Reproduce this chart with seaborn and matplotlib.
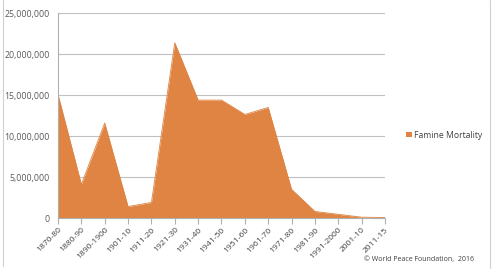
import matplotlib
matplotlib.use("Agg")
import matplotlib.pyplot as plt
import seaborn as sns
import pandas as pd
from matplotlib.patches import Patch
from matplotlib.lines import Line2D

categories = ["1870-80", "1880-90", "1890-1900", "1901-10", "1911-20", "1921-30",
              "1931-40", "1941-50", "1951-60", "1961-70", "1971-80", "1981-90",
              "1991-2000", "2001-10", "2011-15"]
mortality = [15100000, 4100000, 11600000, 1400000, 1900000, 21400000,
             14400000, 14400000, 12650000, 13500000, 3500000, 800000,
             450000, 100000, 60000]
series_name = "Famine Mortality"
y_ticks = [0, 5000000, 10000000, 15000000, 20000000, 25000000]

sns.set_theme(style="white")
plt.rcParams['font.family'] = ['Open Sans', 'DejaVu Sans']

df = pd.DataFrame({"pos": range(len(categories)), "val": mortality})
color = "#DF8443"

fig = plt.figure(figsize=(4.96, 2.74), dpi=100)
ax = fig.add_axes([58/496, 1-218/274, (385-58)/496, (218-13.3)/274])

sns.lineplot(data=df, x="pos", y="val", ax=ax, color=color, linewidth=0.6)
ax.fill_between(df["pos"], df["val"], 0, color=color, linewidth=0, zorder=2)

ax.set_xlim(0, len(categories)-1)
ax.set_ylim(0, 25000000)
ax.set_yticks(y_ticks)
ax.set_yticklabels([("{:,}".format(v) if v else "0") for v in y_ticks],
                   fontsize=6.3, color="#595959")
ax.set_xticks(range(len(categories)))
ax.set_xticklabels(categories, rotation=45, ha="right", va="top",
                   rotation_mode="anchor", fontsize=6.1, color="#404040")
ax.set_xlabel("")
ax.set_ylabel("")
ax.grid(axis="y", color="#C0C0C0", linewidth=0.8, zorder=0)
ax.set_axisbelow(True)
for s in ["top", "right"]:
    ax.spines[s].set_visible(False)
ax.spines["left"].set_color("#B0B0B0")
ax.spines["bottom"].set_color("#B0B0B0")
ax.spines["left"].set_linewidth(0.8)
ax.spines["bottom"].set_linewidth(0.8)
ax.tick_params(axis="x", which="major", direction="out", length=4, width=0.8,
               color="#B0B0B0", bottom=True, pad=2)
ax.tick_params(axis="y", length=0, pad=6)

handle = Patch(facecolor=color, edgecolor="none", label=series_name)
fig.legend(handles=[handle], loc="center left", bbox_to_anchor=(403/496, 1-135/274),
           frameon=False, fontsize=6.2, handlelength=0.6, handleheight=0.6,
           handletextpad=0.25, labelcolor="#404040", borderaxespad=0)

fig.text(474/496, 1-260/274, "\u00a9 World Peace Foundation,  2016", ha="right",
         va="center", fontsize=5.0, color="#404040")

fig.add_artist(Line2D([3/496, 3/496], [1-266/274, 1], color="#D0D0D0", linewidth=0.8))
fig.add_artist(Line2D([490/496, 490/496], [1-268/274, 1], color="#D0D0D0", linewidth=0.8))

fig.savefig("out.png", dpi=100)
